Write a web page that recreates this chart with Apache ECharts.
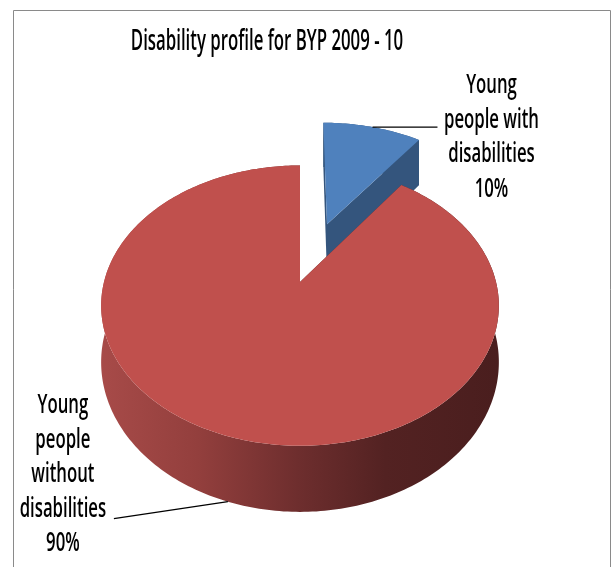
<!DOCTYPE html>
<html><head><meta charset="utf-8">
<script src="https://cdn.jsdelivr.net/npm/echarts@6/dist/echarts.min.js"></script>
<style>html,body{margin:0;padding:0;background:#fff}#chart{width:613px;height:567px}</style>
</head><body><div id="chart"></div>
<script>
// ---- data ----
const chartTitle = 'Disability profile for BYP 2009 - 10';
const categories = ['Young people with disabilities', 'Young people without disabilities'];
const categoryLabels = ['Young\npeople with\ndisabilities', 'Young\npeople\nwithout\ndisabilities'];
const values = [10, 90];

// ---- style / layout ----
const explode = [0.48, 0];
const topColors = ['#4f81bd', '#c0504d'];
const FONT = 'Open Sans';
const FONT_WEIGHT = 600;
const TEXT_SCALE = 0.62;
const TITLE_SCALE = 0.6;
const view = { cx: 300, cy: 282, F: 837, L: 4.27, tilt: 44 * Math.PI / 180, H: 55 };
const labelLayout = [
  { lineDx: 65, lineDy: 0, textDx: 119, textDy: 10 },
  { lineDx: -114, lineDy: 17, textDx: -165, textDy: -27 }
];

const total = values.reduce((a, b) => a + b, 0);
const cosT = Math.cos(view.tilt), sinT = Math.sin(view.tilt);
function projTop(X, Y) {
  const w = view.L + Y * cosT;
  return [view.cx + view.F * X / w, view.cy - view.F * Y * sinT / w];
}
function projBot(X, Y) {
  const w = view.L + Y * cosT;
  return [view.cx + view.F * X / w, view.cy - view.F * Y * sinT / w + view.H * view.L / w];
}
const deg = Math.PI / 180;

function renderItem(params, api) {
  const i = params.dataIndex;
  const v = api.value(0);
  let start = 0;
  for (let k = 0; k < i; k++) start += values[k];
  const a0 = 90 - start / total * 360;
  const a1 = 90 - (start + v) / total * 360;
  const mid = (a0 + a1) / 2;
  const ox = explode[i] * Math.cos(mid * deg), oy = explode[i] * Math.sin(mid * deg);
  const n = Math.max(2, Math.ceil((a0 - a1) / 1));
  const rim = [];
  for (let k = 0; k <= n; k++) {
    const t = (a0 - (a0 - a1) * k / n) * deg;
    rim.push([ox + Math.cos(t), oy + Math.sin(t)]);
  }
  const topArc = rim.map(p => projTop(p[0], p[1]));
  const botArc = rim.map(p => projBot(p[0], p[1]));
  const base = i * 10;
  let sideFill;
  if (i === 0) {
    sideFill = '#36587f';
  } else {
    sideFill = new echarts.graphic.LinearGradient(98, 0, 497, 0, [
      { offset: 0, color: '#a84b49' },
      { offset: 0.25, color: '#933f3d' },
      { offset: 0.5, color: '#6e2e2e' },
      { offset: 0.72, color: '#532222' },
      { offset: 1, color: '#4a1e1e' }
    ], true);
  }
  const children = [];
  children.push({
    type: 'polygon', z2: base + 1,
    shape: { points: topArc.concat(botArc.slice().reverse()) },
    style: { fill: sideFill }
  });
  const vt = projTop(ox, oy), vb = projBot(ox, oy);
  [0, n].forEach(idx => {
    children.push({
      type: 'polygon', z2: base + 2,
      shape: { points: [vt, topArc[idx], botArc[idx], vb] },
      style: { fill: i === 0 ? '#34557d' : '#5a2424' }
    });
  });
  children.push({
    type: 'polygon', z2: base + 3,
    shape: { points: [vt].concat(topArc) },
    style: { fill: topColors[i] }
  });
  const mx = ox + Math.cos(mid * deg), my = oy + Math.sin(mid * deg);
  const anchor = my >= 0 ? projTop(mx, my) : projBot(mx, my);
  const lay = labelLayout[i];
  children.push({
    type: 'line', z2: 50,
    shape: { x1: anchor[0], y1: anchor[1], x2: anchor[0] + lay.lineDx, y2: anchor[1] + lay.lineDy },
    style: { stroke: '#000', lineWidth: 1.2 }
  });
  const pct = Math.round(v / total * 100) + '%';
  children.push({
    type: 'text', z2: 60,
    x: anchor[0] + lay.textDx, y: anchor[1] + lay.textDy,
    scaleX: TEXT_SCALE,
    style: {
      text: categoryLabels[i] + '\n' + pct,
      fontSize: 27, fontFamily: FONT, fontWeight: FONT_WEIGHT, fill: '#000',
      align: 'center', verticalAlign: 'middle', lineHeight: 34.5
    }
  });
  return { type: 'group', children };
}

const chart = echarts.init(document.getElementById('chart'), null, { renderer: 'canvas' });
chart.setOption({
  animation: false,
  backgroundColor: '#fff',
  graphic: [
    { type: 'rect', shape: { x: 13.5, y: 10.5, width: 597, height: 620 },
      style: { fill: 'none', stroke: '#8a8a8a', lineWidth: 1 }, z: -1 },
    { type: 'text', x: 267, y: 42, scaleX: TITLE_SCALE,
      style: { text: chartTitle, fontSize: 28, fontFamily: FONT, fontWeight: FONT_WEIGHT, fill: '#000',
               align: 'center', verticalAlign: 'middle' } }
  ],
  series: [{
    type: 'custom',
    coordinateSystem: 'none',
    data: values.map((v, i) => ({ value: v, name: categories[i] })),
    renderItem: renderItem
  }]
});
</script>
</body></html>
